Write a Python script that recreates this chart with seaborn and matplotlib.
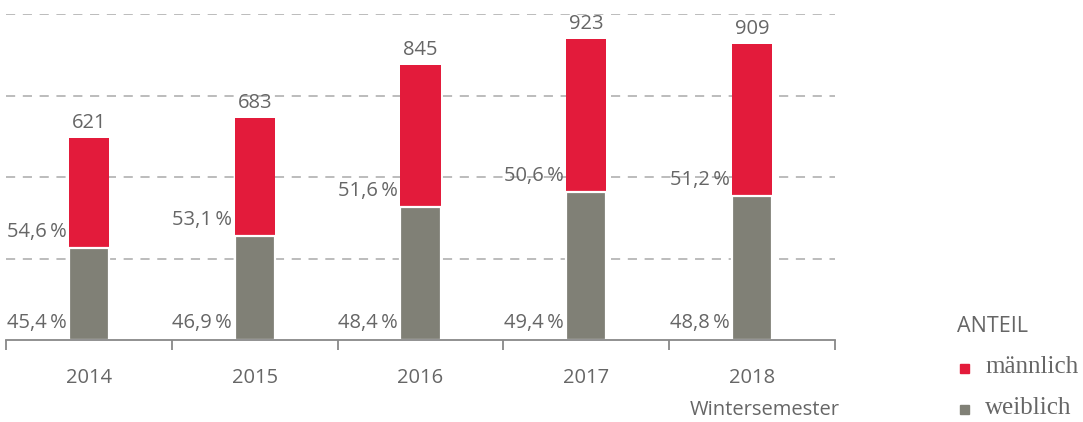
import matplotlib
matplotlib.use("Agg")
import matplotlib.pyplot as plt
import seaborn as sns
import pandas as pd
from matplotlib.patches import Rectangle

years = ["2014", "2015", "2016", "2017", "2018"]
totals = [621, 683, 845, 923, 909]
pct_weiblich = [45.4, 46.9, 48.4, 49.4, 48.8]
pct_maennlich = [54.6, 53.1, 51.6, 50.6, 51.2]

RED = "#E31B3B"
GRAY = "#808076"
TXT = "#666666"

sns.set_theme(style="white")
plt.rcParams["font.family"] = ["Open Sans", "DejaVu Sans"]

weiblich = [t * p / 100 for t, p in zip(totals, pct_weiblich)]
df = pd.DataFrame({"year": years, "total": totals, "weiblich": weiblich})

W, H = 1083, 422
fig = plt.figure(figsize=(W / 100, H / 100), dpi=100)
ax = fig.add_axes([6 / W, (H - 340) / H, (835 - 6) / W, (340 - 14.4) / H])

bw = 0.242
sns.barplot(data=df, x="year", y="total", color=RED, width=bw, ax=ax,
            saturation=1, linewidth=0, zorder=3)
sns.barplot(data=df, x="year", y="weiblich", color=GRAY, width=bw, ax=ax,
            saturation=1, edgecolor="white", linewidth=1.6, zorder=4)

ax.set_xlim(-0.5, 4.5)
ax.set_ylim(0, 1000)
ax.set_yticks([])
for y in [250, 500, 750, 1000]:
    ax.axhline(y, color="#aaaaaa", lw=1.1, ls=(0, (6, 5)), zorder=1)

for s in ["left", "right", "top"]:
    ax.spines[s].set_visible(False)
ax.spines["bottom"].set_color("#888888")
ax.spines["bottom"].set_linewidth(1.3)
ax.spines["bottom"].set_zorder(5)

ax.set_xticks(range(len(years)))
ax.set_xticklabels(years)
ax.set_xticks([i - 0.5 for i in range(len(years) + 1)], minor=True)
ax.tick_params(axis="x", which="major", bottom=False, length=0, pad=20,
               labelsize=14.5, labelcolor=TXT)
ax.tick_params(axis="x", which="minor", bottom=True, length=7, width=1.3,
               color="#888888", direction="out")
ax.set_xlabel("")
ax.set_ylabel("")

fs = 14.5
px = 1000 / (340 - 14.4)  # data units per pixel
for i, (t, w, pw, pm) in enumerate(zip(totals, weiblich, pct_weiblich, pct_maennlich)):
    ax.text(i, t + 5 * px, f"{t}", ha="center", va="bottom", fontsize=fs, color=TXT, zorder=6)
    ax.text(i - bw / 2 - 0.015, 7 * px, f"{pw:.1f}\u2009%".replace(".", ","), ha="right",
            va="bottom", fontsize=fs, color=TXT, zorder=6)
    ax.text(i - bw / 2 - 0.015, w + 6 * px, f"{pm:.1f}\u2009%".replace(".", ","), ha="right",
            va="bottom", fontsize=fs, color=TXT, zorder=6)

fig.text(840 / W, 1 - 410 / H, "Wintersemester", ha="right", va="center",
         fontsize=14.5, color=TXT)
fig.text(957 / W, 1 - 326 / H, "ANTEIL", ha="left", va="center", fontsize=15.5, color=TXT)
for yy, lab, col in [(369, "männlich", RED), (410, "weiblich", GRAY)]:
    fig.patches.append(Rectangle((960 / W, 1 - (yy + 4) / H), 9 / W, 9 / H,
                                 transform=fig.transFigure, color=col))
    fig.text(985 / W, 1 - (yy - 2) / H, lab, ha="left", va="center", fontsize=18,
             color=TXT, family=["Liberation Serif", "DejaVu Serif"])

fig.savefig("out.png", dpi=100)
